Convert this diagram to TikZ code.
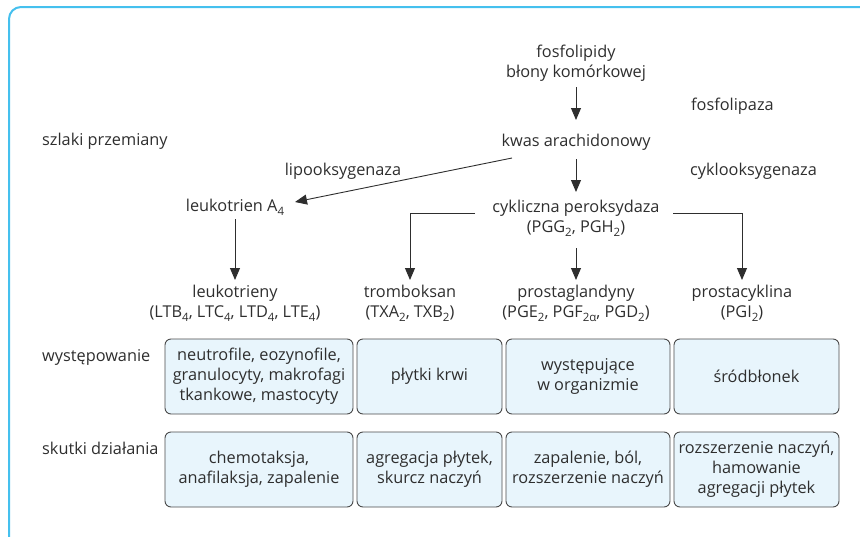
\documentclass[tikz,border=0pt]{standalone}
\usepackage{fontspec}
\setmainfont{Open Sans}
\usetikzlibrary{arrows.meta}
\definecolor{framecol}{HTML}{45C0EE}
\definecolor{boxfill}{HTML}{E8F5FC}
\definecolor{boxline}{HTML}{4A4A4A}
\definecolor{ink}{HTML}{2E2E2E}
\newcommand{\lo}[1]{\raisebox{-0.45ex}{\fontsize{11.5}{11.5}\selectfont #1}}

\begin{document}
\begin{tikzpicture}[x=1pt,y=-1pt,
  font=\fontsize{16.3}{20}\selectfont, text=ink,
  lbl/.style={inner sep=0pt, align=center},
  rowlbl/.style={inner sep=0pt, anchor=west},
  arr/.style={draw=ink, line width=0.9pt, -{Triangle[length=12pt,width=10pt]}},
  ln/.style={draw=ink, line width=0.9pt},
  cell/.style={draw=boxline, fill=boxfill, rounded corners=6pt, line width=0.9pt,
    align=center, inner sep=0pt, minimum height=75pt},
]
\useasboundingbox (0,0) rectangle (860,536);

% frame along the top and the left side
\draw[framecol, line width=2pt, rounded corners=12pt] (9,545) -- (9,7) -- (870,7);

% pathway
\node[lbl] (fos) at (576,63) {fosfolipidy\\błony komórkowej};
\node[lbl] (kwas) at (576,142) {kwas arachidonowy};
\node[lbl] (cyk) at (576,218) {cykliczna peroksydaza\\(PGG\lo{2}, PGH\lo{2})};
\node[lbl] (lta) at (235,207) {leukotrien A\lo{4}};

\node[lbl, anchor=west] (fpl) at (691,106) {fosfolipaza};
\node[lbl, anchor=west] (cox) at (690,171) {cyklooksygenaza};
\node[lbl] (lox) at (343,171) {lipooksygenaza};
\node[rowlbl] (szl) at (42,141) {szlaki przemiany};

% products
\node[lbl] (ltr) at (235,303) {leukotrieny\\(LTB\lo{4}, LTC\lo{4}, LTD\lo{4}, LTE\lo{4})};
\node[lbl] (txa) at (410,303) {tromboksan\\(TXA\lo{2}, TXB\lo{2})};
\node[lbl] (pg) at (576,303) {prostaglandyny\\(PGE\lo{2}, PGF\lo{2α}, PGD\lo{2})};
\node[lbl] (pgi) at (742,303) {prostacyklina\\(PGI\lo{2})};

% connectors (shifts in picture units: positive y points down)
\draw[arr] ([shift={(0,24)}]fos.center) -- ([shift={(0,-22)}]kwas.center);
\draw[arr] ([shift={(0,17)}]kwas.center) -- ([shift={(0,-26)}]cyk.center);
\draw[arr] ([shift={(-64,16)}]kwas.center) -- ([shift={(60,-5)}]lta.center);
\draw[arr] ([shift={(0,12)}]lta.center) -- ([shift={(0,-23)}]ltr.center);
\draw[arr] ([shift={(0,30)}]cyk.center) -- ([shift={(0,-23)}]pg.center);
\draw[ln] ([shift={(-101,-5)}]cyk.center) -| ([shift={(0,-40)}]txa.center);
\draw[arr] ([shift={(0,-40)}]txa.center) -- ([shift={(0,-23)}]txa.center);
\draw[ln] ([shift={(97,-5)}]cyk.center) -| ([shift={(0,-40)}]pgi.center);
\draw[arr] ([shift={(0,-40)}]pgi.center) -- ([shift={(0,-23)}]pgi.center);

% table rows
\node[rowlbl] (wys) at (42,357) {występowanie};
\node[rowlbl] (sku) at (42,448) {skutki działania};

\node[cell, minimum width=188pt] (a1) at (259,376.5) {neutrofile, eozynofile,\\granulocyty, makrofagi\\tkankowe, mastocyty};
\node[cell, minimum width=145pt] (a2) at (429.5,376.5) {płytki krwi};
\node[cell, minimum width=164pt] (a3) at (588,376.5) {występujące\\w organizmie};
\node[cell, minimum width=165pt] (a4) at (756.5,376.5) {śródbłonek};

\node[cell, minimum width=188pt] (b1) at (259,469.5) {chemotaksja,\\anafilaksja, zapalenie};
\node[cell, minimum width=145pt] (b2) at (429.5,469.5) {agregacja płytek,\\skurcz naczyń};
\node[cell, minimum width=164pt] (b3) at (588,469.5) {zapalenie, ból,\\rozszerzenie naczyń};
\node[cell, minimum width=165pt] (b4) at (756.5,469.5) {rozszerzenie naczyń,\\hamowanie\\agregacji płytek};
\end{tikzpicture}
\end{document}
